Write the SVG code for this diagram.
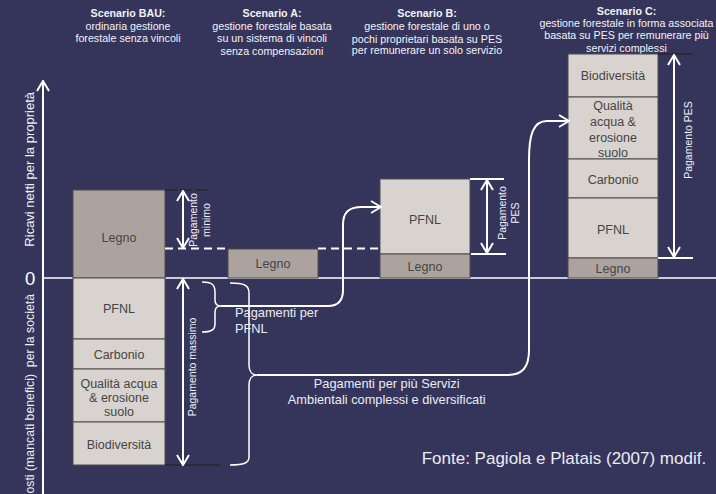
<svg xmlns="http://www.w3.org/2000/svg" width="716" height="494" viewBox="0 0 716 494">
<defs>
<marker id="ah" viewBox="0 0 12 14" refX="11" refY="7" markerWidth="12" markerHeight="14" markerUnits="userSpaceOnUse" orient="auto-start-reverse"><path d="M1,1 L11,7 L1,13" fill="none" stroke="#fff" stroke-width="2"/></marker>
<style>
text{font-family:"Liberation Sans",Arial,sans-serif}
.hd{font-size:10.7px;fill:#f2f2f6;text-anchor:middle}
.hb{font-weight:bold}
.bl{fill:#d9d3d0;stroke:#4d4d4d;stroke-width:1}
.bd{fill:#ada39e;stroke:#4d4d4d;stroke-width:1}
.bt{font-size:12.5px;fill:#454545;text-anchor:middle}
.wl{stroke:#fff;stroke-width:2;fill:none}
.ds{stroke:#fff;stroke-width:2;fill:none;stroke-dasharray:8,5}
.ar{stroke:#fff;stroke-width:2;fill:none;marker-start:url(#ah);marker-end:url(#ah)}
.ae{stroke:#fff;stroke-width:2;fill:none;marker-end:url(#ah)}
.dk{stroke:#2b2b35;stroke-width:2;fill:none}
.lb{font-size:12.8px;fill:#ececf2}
.pg{font-size:10.5px;fill:#f0f0f5;text-anchor:middle}
.br{stroke:#fff;stroke-width:1.5;fill:none}
.ax{font-size:13px;fill:#f0f0f5;text-anchor:end}
</style>
</defs>
<rect width="716" height="494" fill="#35355b"/>

<g id="axes">
<line class="ae" x1="43" y1="494" x2="43" y2="81"/>
<line x1="43" y1="278" x2="716" y2="278" stroke="#fff" stroke-width="1.6"/>
<text x="25" y="285" font-size="18.5" fill="#fff">0</text>
<text class="ax" transform="translate(34,92) rotate(-90)">Ricavi netti per la proprietà</text>
<text class="ax" font-size="12.3" style="font-size:12.3px" transform="translate(34,294) rotate(-90)">Costi (mancati benefici) &#160;per la società</text>
</g>

<g id="headers">
<text class="hd hb" x="128" y="17">Scenario BAU:</text>
<text class="hd" x="128" y="29.5">ordinaria gestione</text>
<text class="hd" x="128" y="42">forestale senza vincoli</text>
<text class="hd hb" x="272" y="17">Scenario A:</text>
<text class="hd" x="272" y="29.5">gestione forestale basata</text>
<text class="hd" x="272" y="42">su un sistema di vincoli</text>
<text class="hd" x="272" y="54.5">senza compensazioni</text>
<text class="hd hb" x="427" y="17.3">Scenario B:</text>
<text class="hd" x="427" y="29.7">gestione forestale di uno o</text>
<text class="hd" x="427" y="42.5">pochi proprietari basata su PES</text>
<text class="hd" x="427" y="54">per remunerare un solo servizio</text>
<text class="hd hb" x="626.5" y="14.5">Scenario C:</text>
<text class="hd" x="626.5" y="27">gestione forestale in forma associata</text>
<text class="hd" x="626.5" y="39">basata su PES per remunerare più</text>
<text class="hd" x="626.5" y="51.5">servizi complessi</text>
</g>

<g id="bau">
<rect class="bd" x="73" y="190" width="92" height="88"/>
<text class="bt" x="119" y="241.5">Legno</text>
<rect class="bl" x="73" y="278" width="92" height="61"/>
<text class="bt" x="119" y="313">PFNL</text>
<rect class="bl" x="73" y="339" width="92" height="30"/>
<text class="bt" x="119" y="358.5">Carbonio</text>
<rect class="bl" x="73" y="369" width="92" height="53"/>
<text class="bt" x="119" y="388">Qualità acqua</text>
<text class="bt" x="119" y="401.5">&amp; erosione</text>
<text class="bt" x="119" y="415.5">suolo</text>
<rect class="bl" x="73" y="422" width="92" height="43"/>
<text class="bt" x="119" y="448.5">Biodiversità</text>
</g>

<g id="scenA">
<rect class="bd" x="228" y="249" width="90" height="29"/>
<text class="bt" x="273" y="268">Legno</text>
</g>

<g id="scenB">
<rect class="bl" x="380" y="179" width="90" height="75"/>
<text class="bt" x="425" y="224">PFNL</text>
<rect class="bd" x="380" y="254" width="90" height="24"/>
<text class="bt" x="425" y="271">Legno</text>
</g>

<g id="scenC">
<rect class="bl" x="568" y="54" width="90" height="43"/>
<text class="bt" x="613" y="79.5">Biodiversità</text>
<rect class="bl" x="568" y="97" width="90" height="62"/>
<text class="bt" x="613" y="110">Qualità</text>
<text class="bt" x="613" y="126">acqua &amp;</text>
<text class="bt" x="613" y="141.5">erosione</text>
<text class="bt" x="613" y="156.5">suolo</text>
<rect class="bl" x="568" y="159" width="90" height="39"/>
<text class="bt" x="613" y="184">Carbonio</text>
<rect class="bl" x="568" y="198" width="90" height="60"/>
<text class="bt" x="613" y="233.5">PFNL</text>
<rect class="bd" x="568" y="258" width="90" height="20"/>
<text class="bt" x="613" y="272.5">Legno</text>
</g>

<g id="payments">
<line class="dk" x1="165" y1="190" x2="208" y2="190" stroke-dasharray="12,3"/>
<line class="dk" x1="165" y1="465" x2="220" y2="465"/>
<line class="dk" x1="658" y1="54" x2="693" y2="54"/>
<line class="ds" x1="165" y1="248.5" x2="228" y2="248.5"/>
<line class="ds" x1="318" y1="248.5" x2="380" y2="248.5"/>
<line class="ar" x1="183" y1="191" x2="183" y2="248"/>
<line class="ar" x1="183" y1="279" x2="183" y2="465"/>
<line class="wl" x1="470" y1="179" x2="504" y2="179"/>
<line class="wl" x1="471" y1="254" x2="506" y2="254"/>
<line class="ar" x1="487" y1="180" x2="487" y2="253"/>
<line class="wl" x1="658" y1="258" x2="693" y2="258"/>
<line class="ar" x1="674" y1="55" x2="674" y2="257"/>
<text class="pg" transform="translate(197,220) rotate(-90)">Pagamento</text>
<text class="pg" transform="translate(210,220) rotate(-90)">minimo</text>
<text class="pg" transform="translate(196,367) rotate(-90)">Pagamento massimo</text>
<text class="pg" transform="translate(506,213) rotate(-90)">Pagamento</text>
<text class="pg" transform="translate(519,213) rotate(-90)">PES</text>
<text class="pg" transform="translate(691.5,140) rotate(-90)">Pagamento PES</text>
</g>

<g id="connectors">
<path class="br" d="M202,282 C211,282 215,284 215,292 L215,300 C215,304 217,306 221,306 C217,306 215,308 215,312 L215,324 C215,330 211,332 202,332"/>
<path class="br" d="M230,283 C244,283 249,285 249,293 L249,365 C249,371 252,375 257,375 C252,375 249,379 249,385 L249,457 C249,463 244,465 230,465"/>
<path class="ae" d="M221,306 L328,306 C338,306 343,300 343,290 L343,225 C343,213 348,207 362,207 L381,207"/>
<path class="ae" d="M257,375 L507,375 C522,375 529,368 529,350 L529,160 C529,135 533,121 547,121 L569,121"/>
</g>

<g id="labels">
<text class="lb" x="235" y="317">Pagamenti per</text>
<text class="lb" x="235" y="333">PFNL</text>
<text class="lb" x="386.7" y="388" text-anchor="middle">Pagamenti per più Servizi</text>
<text class="lb" x="386.7" y="404" text-anchor="middle">Ambientali complessi e diversificati</text>
<text x="421.7" y="464" font-size="17" fill="#ececf2">Fonte: Pagiola e Platais (2007) modif.</text>
</g>
</svg>
